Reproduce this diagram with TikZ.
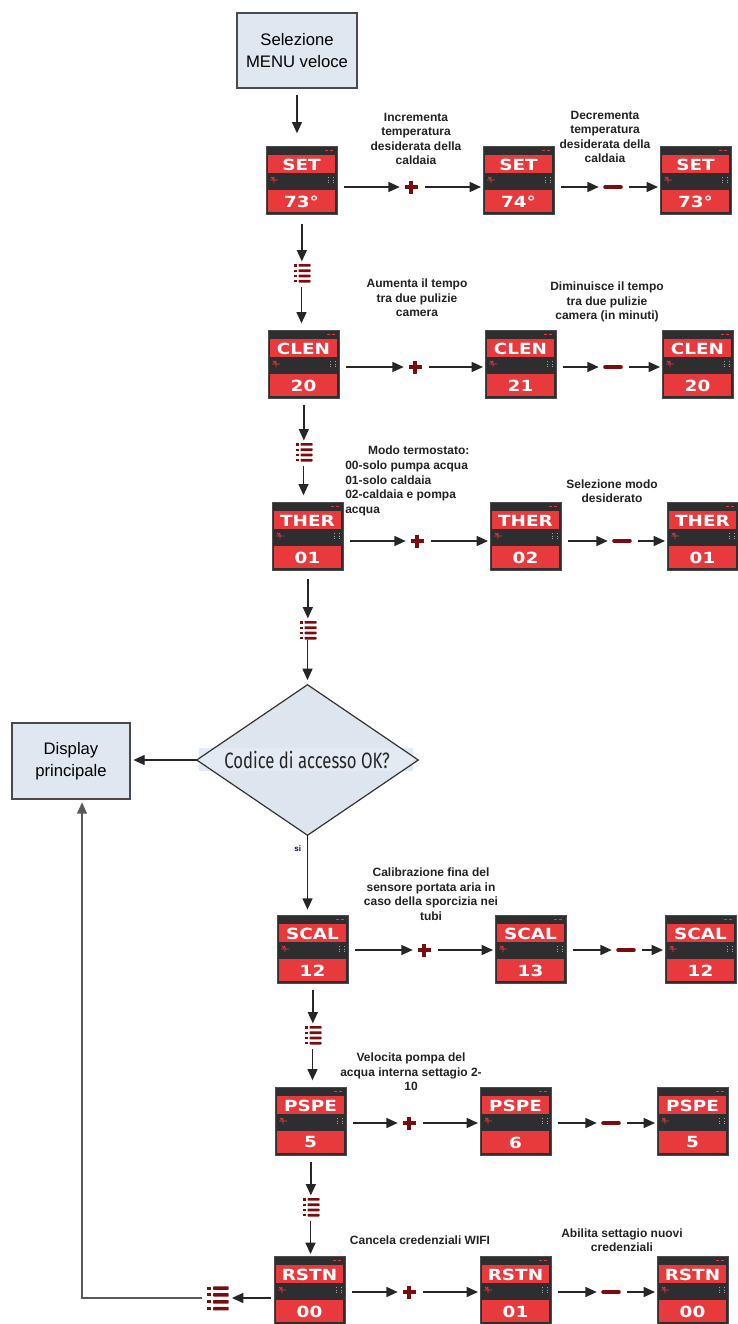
\documentclass[tikz,border=0pt]{standalone}
\usepackage{graphicx}
\usepackage{fontspec}
\setmainfont{Liberation Sans}
\newfontfamily\dispfont{DejaVu Sans}
\newfontfamily\condfont{Fira Sans}
\usetikzlibrary{shapes.geometric,arrows.meta,calc}
\definecolor{boxfill}{HTML}{DFE7F1}
\definecolor{boxline}{HTML}{4A4A4A}
\definecolor{dispdark}{HTML}{2E2E30}
\definecolor{dispred}{HTML}{E8393C}
\definecolor{darkred}{HTML}{7A0B0E}
\definecolor{diafill}{HTML}{DDE5EF}
\definecolor{bandfill}{HTML}{E4EAF3}
\definecolor{txt}{HTML}{222222}
\tikzset{
 startbox/.style={draw=boxline, line width=1.1pt, fill=boxfill, minimum width=90pt, minimum height=56.25pt, align=center, font=\fontsize{12.5}{16.5}\selectfont, inner sep=0},
 dispframe/.style={draw=gray!60!black, line width=0.5pt, fill=dispdark, minimum width=53.25pt, minimum height=51pt, inner sep=0, anchor=north west},
 disptext/.style={text=white, font=\dispfont\bfseries\fontsize{11.5}{12}\selectfont, inner sep=0},
 note/.style={text=txt, font=\bfseries\fontsize{9}{10.9}\selectfont, align=center, inner sep=0},
 arr/.style={draw=black!85, line width=1.1pt, -{Triangle[length=8.5pt,width=7.5pt]}},
 markn/.style={minimum width=10.5pt, minimum height=10.5pt, inner sep=0},
 minusn/.style={minimum width=15pt, minimum height=6pt, inner sep=0},
 menun/.style={minimum width=12pt, minimum height=15pt, inner sep=0},
}
\newcommand\dispunit[5]{%
 \node[dispframe] (#1) at (#2,#3) {};
 \fill[dispred] (#2+2,#3+9) rectangle (#2+69,#3+27);
 \fill[dispred] (#2+2,#3+44) rectangle (#2+69,#3+66);
 \node[disptext] at (#2+35.5,#3+18.5) {\scalebox{1.2}[1]{#4}};
 \node[disptext] at (#2+35.5,#3+55.5) {\scalebox{1.2}[1]{#5}};
 \draw[dispred, line width=0.6pt] (#2+59,#3+4)--(#2+62,#3+4) (#2+64,#3+4)--(#2+67,#3+4);
 \draw[dispred, line width=0.6pt] (#2+4,#3+34)--(#2+12,#3+34) (#2+8,#3+31)--(#2+8,#3+37) (#2+5,#3+31) arc[start angle=180,end angle=0,radius=1.5];
 \draw[gray!70, line width=0.6pt, dash pattern=on 1pt off 1pt] (#2+62,#3+31)--(#2+62,#3+37) (#2+67,#3+31)--(#2+67,#3+37);
}
\newcommand\menuicon[4]{%
 \node[menun] (#1) at (#2,#3) {};
 \begin{scope}[shift={(#2,#3)}, scale=#4]
  \foreach \k in {0,1,2,3} {
   \fill[darkred, rounded corners=0.5pt] (-3,-9+\k*5.3) rectangle (9,-6.3+\k*5.3);
   \fill[darkred] (-7.5,-8.8+\k*5.3) rectangle (-5,-6.5+\k*5.3);
  }
 \end{scope}
}
\newcommand\plusmark[3]{%
 \node[markn] (#1) at (#2,#3) {};
 \draw[darkred, line width=3pt] (#2-6.5,#3)--(#2+6.5,#3) (#2,#3-6.5)--(#2,#3+6.5);
}
\newcommand\minusmark[3]{%
 \node[minusn] (#1) at (#2,#3) {};
 \draw[darkred, line width=3.5pt, line cap=round] (#2-7.5,#3)--(#2+7.5,#3);
}
\newcommand\hrow[5]{%
 \draw[arr, shorten <=4.5pt, shorten >=3pt] (#2 -| #1.east) -- (#2.west);
 \draw[arr, shorten <=5pt, shorten >=1.5pt] (#2.east) -- (#2 -| #3.west);
 \draw[arr, shorten <=4.5pt, shorten >=3pt] (#4 -| #3.east) -- (#4.west);
 \draw[arr, shorten <=4pt, shorten >=1.5pt] (#4.east) -- (#4 -| #5.west);
}
\begin{document}
\begin{tikzpicture}[x=0.75pt,y=-0.75pt]
\useasboundingbox (0,0) rectangle (738,1324);
% start box
\node[startbox] (start) at (297,50.5) {Selezione\\MENU veloce};
% row 1
\dispunit{s1a}{266}{146}{SET}{73°}
\dispunit{s1b}{483}{146}{SET}{74°}
\dispunit{s1c}{660}{146}{SET}{73°}
\plusmark{p1}{411}{187}
\minusmark{n1}{613}{187}
\hrow{s1a}{p1}{s1b}{n1}{s1c}
\node[note] (l1a) at (416,139) {Incrementa\\temperatura\\desiderata della\\caldaia};
\node[note] (l1b) at (605,137) {Decrementa\\temperatura\\desiderata della\\caldaia};
% row 2
\dispunit{s2a}{268}{330}{CLEN}{20}
\dispunit{s2b}{485}{330}{CLEN}{21}
\dispunit{s2c}{662}{330}{CLEN}{20}
\plusmark{p2}{415}{367}
\minusmark{n2}{613}{367}
\hrow{s2a}{p2}{s2b}{n2}{s2c}
\node[note] (l2a) at (417,298) {Aumenta il tempo\\tra due pulizie\\camera};
\node[note] (l2b) at (607,302) {Diminuisce il tempo\\tra due pulizie\\camera (in minuti)};
% row 3
\dispunit{s3a}{272}{502}{THER}{01}
\dispunit{s3b}{490}{502}{THER}{02}
\dispunit{s3c}{667}{502}{THER}{01}
\plusmark{p3}{417}{541}
\minusmark{n3}{622}{541}
\hrow{s3a}{p3}{s3b}{n3}{s3c}
\node[note, align=left, anchor=north west] (l3a) at (345,446) {\hspace*{1.9em}Modo termostato:\\00-solo pumpa acqua\\01-solo caldaia\\02-caldaia e pompa\\acqua};
\node[note] (l3b) at (612,491) {Selezione modo\\desiderato};
% vertical chain top
\menuicon{m1}{301.5}{273}{1}
\menuicon{m2}{303.5}{452}{1}
\menuicon{m3}{307.5}{630}{1}
\draw[arr, shorten <=5pt, shorten >=9.5pt] (start.south) -- (start.south |- s1a.north);
\draw[arr, shorten <=7pt, shorten >=1pt] (s1a.south) -- (s1a.south |- m1.north);
\draw[arr, shorten <=2.5pt, shorten >=5pt] (m1.south) -- (m1.south |- s2a.north);
\draw[arr, shorten <=5pt, shorten >=1pt] (s2a.south) -- (s2a.south |- m2.north);
\draw[arr, shorten <=2.5pt, shorten >=5pt] (m2.south) -- (m2.south |- s3a.north);
\draw[arr, shorten <=6pt, shorten >=1pt] (s3a.south) -- (s3a.south |- m3.north);
% diamond
\node[diamond, fill=diafill, inner sep=0, minimum width=165.75pt, minimum height=112.5pt] (dec) at (307.5,760) {};
\fill[bandfill] (199,748) rectangle (413,771);
\draw[black!80, line width=0.9pt] (dec.north) -- (dec.east) -- (dec.south) -- (dec.west) -- cycle;
\node[inner sep=0, text=black!85] (dectext) at (307,760) {\condfont\resizebox{124pt}{13pt}{Codice di accesso OK?}};
\draw[arr, shorten >=3.5pt] (m3.south) -- (m3.south |- dec.north);
% display principale
\node[startbox, minimum width=88.5pt, minimum height=57pt] (dp) at (71,761) {Display\\principale};
\draw[arr, shorten >=2pt] (dec.west) -- (dec.west -| dp.east);
% row 4
\dispunit{s4a}{277}{915}{SCAL}{12}
\dispunit{s4b}{495}{915}{SCAL}{13}
\dispunit{s4c}{665}{915}{SCAL}{12}
\plusmark{p4}{424}{950}
\minusmark{n4}{626}{950}
\hrow{s4a}{p4}{s4b}{n4}{s4c}
\node[note] (l4) at (431,894) {Calibrazione fina del\\sensore portata aria in\\caso della sporcizia nei\\tubi};
\draw[arr, shorten >=4pt] (dec.south) -- node[pos=0.17, left=1pt, font=\bfseries\fontsize{6}{7}\selectfont, text=blue!35!black] (si) {si} (dec.south |- s4a.north);
% row 5
\dispunit{s5a}{275}{1087}{PSPE}{5}
\dispunit{s5b}{480}{1087}{PSPE}{6}
\dispunit{s5c}{657}{1087}{PSPE}{5}
\plusmark{p5}{409}{1123}
\minusmark{n5}{611}{1123}
\hrow{s5a}{p5}{s5b}{n5}{s5c}
\node[note] (l5) at (411,1072) {Velocita pompa del\\acqua interna settagio 2-\\10};
% row 6
\dispunit{s6a}{274}{1256}{RSTN}{00}
\dispunit{s6b}{480}{1256}{RSTN}{01}
\dispunit{s6c}{657}{1256}{RSTN}{00}
\plusmark{p6}{409}{1292}
\minusmark{n6}{611}{1292}
\hrow{s6a}{p6}{s6b}{n6}{s6c}
\node[note] (l6a) at (420,1240) {Cancela credenziali WIFI};
\node[note] (l6b) at (622,1240) {Abilita settagio nuovi\\credenziali};
% vertical chain bottom
\menuicon{m4}{312.5}{1035}{1}
\menuicon{m5}{310.5}{1207}{1}
\draw[arr, shorten <=5pt, shorten >=1pt] (s4a.south) -- (s4a.south |- m4.north);
\draw[arr, shorten <=2.5pt, shorten >=5pt] (m4.south) -- (m4.south |- s5a.north);
\draw[arr, shorten <=5pt, shorten >=1pt] (s5a.south) -- (s5a.south |- m5.north);
\draw[arr, shorten <=2.5pt, shorten >=1.5pt] (m5.south) -- (m5.south |- s6a.north);
% return path
\menuicon{m6}{217}{1298}{1.3}
\coordinate (ret) at (82,1298);
\draw[arr, shorten <=2pt, shorten >=5pt] (m6 -| s6a.west) -- (m6.east);
\draw[arr, draw=black!65, shorten <=5pt, shorten >=2pt] (m6.west) -- (ret) -- (ret |- dp.south);
\end{tikzpicture}
\end{document}
